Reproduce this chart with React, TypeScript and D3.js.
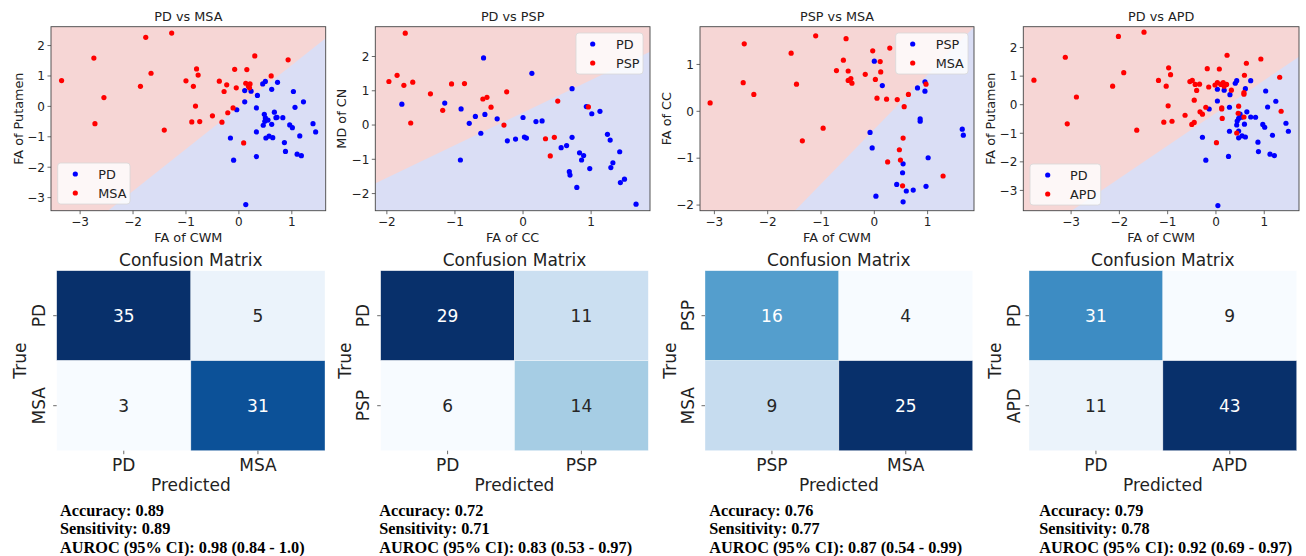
import React from "react";
import * as d3 from "d3";

// ---- data ----

// PD vs MSA  (FA of CWM, FA of Putamen)
const pdMsaPD: [number, number][] = [
  [0.11, 0.52], [0.23, 0.5], [0.11, 0.15], [-0.04, -0.11], [0.33, -0.05], [0.35, 0.36],
  [0.45, 0.74], [0.5, 0.82], [0.73, 0.79], [0.62, 0.56], [0.67, -0.19], [0.48, -0.26],
  [0.5, -0.38], [0.49, -0.49], [0.46, -0.62], [0.72, -0.36], [0.83, -0.37], [0.62, -0.59],
  [0.33, -0.84], [0.51, -1.04], [0.57, -0.98], [0.64, -1.03], [-0.16, -1.04], [-0.1, -1.77],
  [0.33, -1.65], [0.13, -3.23], [0.86, -1.19], [0.88, -1.48], [0.96, -0.61], [1.01, -0.7],
  [1.03, 0.49], [1.06, -0.03], [1.22, 0.15], [1.15, -0.97], [1.1, -1.57], [1.18, -1.62],
  [1.4, -0.57], [1.45, -0.84], [0.55, -0.45], [0.7, -0.37],
];
const pdMsaMSA: [number, number][] = [
  [-3.35, 0.85], [-1.76, 2.27], [-1.27, 2.41], [-2.74, 1.59], [-1.66, 1.09], [-1.86, 0.66],
  [-2.55, 0.29], [-2.72, -0.57], [-1.41, -0.78], [-1.0, 0.84], [-0.8, 1.23], [-0.77, 1.03],
  [-0.86, 0.66], [-0.82, 0.01], [-0.89, -0.51], [-0.74, -0.5], [-0.5, -0.31], [-0.32, -0.52],
  [-0.37, 0.83], [-0.23, 0.71], [-0.28, 0.49], [-0.21, -0.21], [-0.11, -0.05], [-0.08, 1.22],
  [-0.05, 0.61], [0.15, 1.21], [0.3, 1.66], [0.13, 0.76], [0.18, 0.66], [0.21, 0.74],
  [0.2, 0.61], [0.61, 1.0], [0.93, 1.53], [0.09, -1.2],
];

// PD vs PSP  (FA of CC, MD of CN)
const pdPspPD: [number, number][] = [
  [-1.78, 0.61], [-1.15, 0.64], [-0.91, 0.47], [-0.92, -1.02], [-0.79, 0.05], [-0.7, 0.25],
  [-0.62, -0.24], [-0.58, 1.96], [-0.56, 0.31], [-0.38, 0.18], [-0.23, -0.46], [-0.11, -0.41],
  [0.0, 0.22], [0.02, -0.35], [0.05, -0.38], [0.13, 1.51], [0.19, 0.1], [0.28, 0.12],
  [0.56, -0.66], [0.64, -0.6], [0.72, 1.06], [0.72, -0.36], [0.68, -1.36], [0.69, -1.46],
  [0.79, -1.82], [0.83, -0.81], [0.89, -0.89], [0.86, -1.02], [0.93, 0.54], [1.01, 0.33],
  [0.98, -1.27], [1.13, 0.4], [1.24, -0.27], [1.28, -0.44], [1.29, -1.24], [1.32, -1.1],
  [1.42, -0.78], [1.43, -1.68], [1.49, -1.58], [1.66, -2.31],
];
const pdPspPSP: [number, number][] = [
  [-1.73, 2.68], [-1.97, 1.27], [-1.85, 1.45], [-1.75, 1.16], [-1.62, 1.25], [-1.65, 0.06],
  [-1.36, 0.91], [-1.18, 0.43], [-1.05, 1.2], [-0.86, 1.21], [-0.59, 0.76], [-0.53, 0.81],
  [-0.47, 0.52], [-0.24, 0.97], [-0.28, 0.0], [0.33, -0.4], [0.46, -0.36], [0.4, -0.9],
  [0.51, 0.7], [0.96, 0.53],
];

// PSP vs MSA  (FA of CWM, FA of CC)
const pspMsaPSP: [number, number][] = [
  [0.0, 1.07], [0.15, 0.55], [-0.08, -0.45], [-0.04, -0.78], [0.03, -1.81], [0.54, -1.12],
  [0.53, -1.31], [0.42, -1.56], [0.6, -1.7], [0.54, -1.93], [0.73, -1.68], [0.81, 0.5],
  [0.86, -0.16], [0.86, -0.21], [0.95, 0.63], [0.95, 0.43], [1.01, -0.99], [0.97, -1.6],
  [1.65, -0.38], [1.67, -0.51],
];
const pspMsaMSA: [number, number][] = [
  [-3.08, 0.18], [-2.44, 1.44], [-2.46, 0.61], [-2.26, 0.36], [-1.56, 1.24], [-1.46, 0.58],
  [-1.35, -0.63], [-1.1, 1.61], [-0.96, -0.36], [-0.71, 0.87], [-0.58, 1.09], [-0.53, 1.55],
  [-0.49, 0.86], [-0.49, 0.66], [-0.44, 0.7], [-0.42, 0.6], [-0.17, 0.79], [-0.03, 1.29],
  [0.02, 0.68], [0.05, 0.28], [0.11, 1.06], [0.12, 0.84], [0.23, 0.26], [0.29, 1.35],
  [0.43, 0.25], [0.56, 0.1], [0.64, 0.36], [0.54, -0.57], [0.47, -0.82], [0.49, -1.04],
  [0.25, -1.08], [0.53, -1.59], [0.97, 0.58], [1.29, -1.38],
];

// PD vs APD  (FA of CWM, FA of Putamen)
const pdApdPD: [number, number][] = [
  [0.03, 0.54], [0.03, 0.13], [0.17, 0.51], [0.29, 0.35], [-0.14, -0.15], [-0.28, -1.14],
  [-0.21, -1.94], [0.04, -3.53], [0.28, -0.09], [0.28, -0.93], [0.26, -1.81], [0.4, 0.75],
  [0.43, 0.84], [0.47, -0.48], [0.44, -0.57], [0.43, -0.71], [0.47, -0.92], [0.47, -1.16],
  [0.54, -1.09], [0.61, -1.13], [0.59, -0.68], [0.61, 0.56], [0.64, -0.25], [0.72, 0.84],
  [0.72, -0.43], [0.82, -0.44], [0.87, -1.31], [0.88, -1.64], [0.97, -0.69], [1.01, -0.79],
  [1.03, 0.48], [1.07, -0.08], [1.24, 0.12], [1.17, -1.07], [1.12, -1.73], [1.21, -1.78],
  [1.45, -0.65], [1.5, -0.93], [0.5, -0.33], [0.53, -0.44],
];
const pdApdAPD: [number, number][] = [
  [-3.77, 0.86], [-3.12, 1.66], [-3.08, -0.67], [-2.89, 0.27], [-2.14, 0.65], [-2.02, 2.39],
  [-1.91, 1.12], [-1.64, -0.89], [-1.49, 2.54], [-1.19, 0.85], [-1.08, -0.61], [-1.03, 0.65],
  [-0.98, 1.29], [-0.94, 1.05], [-0.99, -0.04], [-0.91, -0.58], [-0.64, -0.37], [-0.54, 0.81],
  [-0.49, 0.85], [-0.5, -0.69], [-0.45, -0.62], [-0.43, 0.71], [-0.4, 0.5], [-0.45, 0.16],
  [-0.34, 0.72], [-0.33, -0.25], [-0.28, -0.33], [-0.21, -0.09], [-0.18, 1.26], [-0.15, 0.62],
  [-0.02, 0.69], [0.01, -1.33], [0.07, 1.25], [0.03, 0.77], [0.1, 0.71], [0.15, 0.77],
  [0.17, 0.65], [0.22, 0.71], [0.12, -0.11], [0.13, -0.48], [0.12, -0.15], [0.23, 1.73],
  [0.32, 0.51], [0.47, -0.05], [0.46, -0.3], [0.43, -0.99], [0.58, -0.43], [0.58, 0.37],
  [0.59, 1.03], [0.63, 1.45], [0.93, 1.6], [1.32, 0.96], [1.35, -0.23], [0.58, 0.42],
];

// linear decision boundaries, two points each (data units)
const boundaries: [number, number][][] = [
  [[-2.47, -3.43], [1.64, 2.24]],
  [[-2.17, -1.7], [1.865, 2.14]],
  [[-1.49, -2.12], [1.87, 1.8]],
  [[-2.99, -3.71], [1.72, 1.68]],
];

const titles = ["PD vs MSA", "PD vs PSP", "PSP vs MSA", "PD vs APD"];
const xLabels = ["FA of CWM", "FA of CC", "FA of CWM", "FA of CWM"];
const yLabels = ["FA of Putamen", "MD of CN", "FA of CC", "FA of Putamen"];
const classNames = [["PD", "MSA"], ["PD", "PSP"], ["PSP", "MSA"], ["PD", "APD"]];
const classPoints = [
  [pdMsaPD, pdMsaMSA],
  [pdPspPD, pdPspPSP],
  [pspMsaPSP, pspMsaMSA],
  [pdApdPD, pdApdAPD],
];
const xDomains = [[-3.55, 1.64], [-2.17, 1.865], [-3.27, 1.87], [-3.99, 1.72]];
const yDomains = [[-3.43, 2.62], [-2.5, 2.87], [-2.12, 1.805], [-3.71, 2.73]];
const xTickVals = [[-3, -2, -1, 0, 1], [-2, -1, 0, 1], [-3, -2, -1, 0, 1], [-3, -2, -1, 0, 1]];
const yTickVals = [[-3, -2, -1, 0, 1, 2], [-2, -1, 0, 1, 2], [-2, -1, 0, 1], [-3, -2, -1, 0, 1, 2]];

const confusion = [
  [[35, 5], [3, 31]],
  [[29, 11], [6, 14]],
  [[16, 4], [9, 25]],
  [[31, 9], [11, 43]],
];
const metrics = [
  ["Accuracy: 0.89", "Sensitivity: 0.89", "AUROC (95% CI): 0.98 (0.84 - 1.0)"],
  ["Accuracy: 0.72", "Sensitivity: 0.71", "AUROC (95% CI): 0.83 (0.53 - 0.97)"],
  ["Accuracy: 0.76", "Sensitivity: 0.77", "AUROC (95% CI): 0.87 (0.54 - 0.99)"],
  ["Accuracy: 0.79", "Sensitivity: 0.78", "AUROC (95% CI): 0.92 (0.69 - 0.97)"],
];

// ---- layout ----
const W = 1306, H = 556;
const plotLeft = [51, 375.3, 700, 1023.3];
const plotWidth = [274.7, 274.7, 274, 275.7];
const plotTop = 26.7, plotBottom = 210.7;
const legendBoxes = [
  { x: 57.7, y: 163, w: 72.3, h: 41, mx: 75.3, tx: 98.3 },
  { x: 576, y: 33, w: 67, h: 41, mx: 592.7, tx: 616 },
  { x: 895.7, y: 33, w: 72.3, h: 41, mx: 912.7, tx: 935.7 },
  { x: 1030, y: 164, w: 70.7, h: 41, mx: 1047.7, tx: 1070 },
];
const cmLeft = [56.7, 380.7, 705, 1029];
const cmWidth = [268.3, 267.6, 267.7, 267.7];
const cmTop = 270.7, cmHeight = 180;
const cmYTickX = [39.3, 363.3, 688, 1014];
const cmTrueX = [20, 345, 670, 995];
const metricsX = [60, 379.3, 709.3, 1039.3];

const sans = "DejaVu Sans, sans-serif";
const dotColors = ["#0000ff", "#ff0000"];

function luminance(c: string) {
  const rgb = d3.rgb(c);
  const lin = [rgb.r, rgb.g, rgb.b].map((v) => {
    const s = v / 255;
    return s <= 0.03928 ? s / 12.92 : Math.pow((s + 0.055) / 1.055, 2.4);
  });
  return 0.2126 * lin[0] + 0.7152 * lin[1] + 0.0722 * lin[2];
}

const fmtTick = (t: number) => String(t).replace("-", "\u2212");

function Scatter({ i }: { i: number }) {
  const x = d3.scaleLinear().domain(xDomains[i]).range([plotLeft[i], plotLeft[i] + plotWidth[i]]);
  const y = d3.scaleLinear().domain(yDomains[i]).range([plotBottom, plotTop]);
  const [[bx0, by0], [bx1, by1]] = boundaries[i];
  const slope = (by1 - by0) / (bx1 - bx0);
  const lineAt = (v: number) => by0 + slope * (v - bx0);
  const [xa, xb] = [xDomains[i][0] - 1, xDomains[i][1] + 1];
  const top = yDomains[i][1] + 20;
  const redRegion = d3.line()([
    [x(xa), y(lineAt(xa))],
    [x(xb), y(lineAt(xb))],
    [x(xb), y(top)],
    [x(xa), y(top)],
  ]) + "Z";
  const cx = plotLeft[i] + plotWidth[i] / 2;
  const lg = legendBoxes[i];
  const clipId = `clip-${i}`;
  return (
    <g>
      <clipPath id={clipId}>
        <rect x={plotLeft[i]} y={plotTop} width={plotWidth[i]} height={plotBottom - plotTop} />
      </clipPath>
      <g clipPath={`url(#${clipId})`}>
        <rect x={plotLeft[i]} y={plotTop} width={plotWidth[i]} height={plotBottom - plotTop} fill="#dadef5" />
        <path d={redRegion} fill="#f6d6d5" />
        {classPoints[i].map((pts, k) =>
          pts.map((p, j) => (
            <circle key={`${k}-${j}`} cx={x(p[0])} cy={y(p[1])} r={2.6} fill={dotColors[k]} />
          ))
        )}
      </g>
      <rect x={plotLeft[i]} y={plotTop} width={plotWidth[i]} height={plotBottom - plotTop} fill="none" stroke="#444" strokeWidth={0.9} />
      {xTickVals[i].map((t) => (
        <g key={`xt${t}`}>
          <line x1={x(t)} x2={x(t)} y1={plotBottom} y2={plotBottom + 3.5} stroke="#444" strokeWidth={0.8} />
          <text x={x(t)} y={plotBottom + 15.5} textAnchor="middle" fontSize={12} fontFamily={sans} fill="#222">
            {fmtTick(t)}
          </text>
        </g>
      ))}
      {yTickVals[i].map((t) => (
        <g key={`yt${t}`}>
          <line x1={plotLeft[i] - 3.5} x2={plotLeft[i]} y1={y(t)} y2={y(t)} stroke="#444" strokeWidth={0.8} />
          <text x={plotLeft[i] - 6} y={y(t) + 4.3} textAnchor="end" fontSize={12} fontFamily={sans} fill="#222">
            {fmtTick(t)}
          </text>
        </g>
      ))}
      <text x={cx} y={21} textAnchor="middle" fontSize={12.8} fontFamily={sans} fill="#222">{titles[i]}</text>
      <text x={cx} y={241.5} textAnchor="middle" fontSize={12.8} fontFamily={sans} fill="#222">{xLabels[i]}</text>
      <text
        transform={`translate(${[18.3, 341.7, 666, 990.7][i] + 4.5},${(plotTop + plotBottom) / 2}) rotate(-90)`}
        textAnchor="middle" fontSize={12.8} fontFamily={sans} fill="#222"
      >
        {yLabels[i]}
      </text>
      <rect x={lg.x} y={lg.y} width={lg.w} height={lg.h} rx={3} fill="#ffffff" fillOpacity={0.8} stroke="#d8d8d8" strokeWidth={0.8} />
      {classNames[i].map((name, k) => (
        <g key={name}>
          <circle cx={lg.mx} cy={lg.y + 11 + k * 19} r={2.6} fill={dotColors[k]} />
          <text x={lg.tx} y={lg.y + 15.5 + k * 19} fontSize={12.8} fontFamily={sans} fill="#222">{name}</text>
        </g>
      ))}
    </g>
  );
}

function Confusion({ i }: { i: number }) {
  const m = confusion[i];
  const flat = m.flat();
  const color = d3.scaleSequential(d3.interpolateBlues).domain([d3.min(flat)!, d3.max(flat)!]);
  const x = d3.scaleBand().domain(["0", "1"]).range([cmLeft[i], cmLeft[i] + cmWidth[i]]);
  const y = d3.scaleBand().domain(["0", "1"]).range([cmTop, cmTop + cmHeight]);
  const cx = cmLeft[i] + cmWidth[i] / 2;
  return (
    <g>
      <text x={cx} y={266} textAnchor="middle" fontSize={17} fontFamily={sans} fill="#222">Confusion Matrix</text>
      {m.map((row, r) =>
        row.map((v, c) => {
          const fill = color(v);
          const txt = luminance(fill) < 0.408 ? "#ffffff" : "#262626";
          return (
            <g key={`${r}-${c}`}>
              <rect x={x(String(c))} y={y(String(r))} width={x.bandwidth()} height={y.bandwidth()} fill={fill} stroke="#ffffff" strokeOpacity={0.6} strokeWidth={0.6} />
              <text x={x(String(c))! + x.bandwidth() / 2} y={y(String(r))! + y.bandwidth() / 2 + 6} textAnchor="middle" fontSize={17} fontFamily={sans} fill={txt}>
                {v}
              </text>
            </g>
          );
        })
      )}
      {classNames[i].map((name, k) => {
        const px = x(String(k))! + x.bandwidth() / 2;
        const py = y(String(k))! + y.bandwidth() / 2;
        return (
          <g key={name}>
            <line x1={px} x2={px} y1={cmTop + cmHeight} y2={cmTop + cmHeight + 3.5} stroke="#444" strokeWidth={0.8} />
            <text x={px} y={471} textAnchor="middle" fontSize={17} fontFamily={sans} fill="#222">{name}</text>
            <line x1={cmLeft[i] - 3.5} x2={cmLeft[i]} y1={py} y2={py} stroke="#444" strokeWidth={0.8} />
            <text transform={`translate(${cmYTickX[i] + 6},${py}) rotate(-90)`} textAnchor="middle" fontSize={17} fontFamily={sans} fill="#222">{name}</text>
          </g>
        );
      })}
      <text x={cx} y={490.5} textAnchor="middle" fontSize={17} fontFamily={sans} fill="#222">Predicted</text>
      <text transform={`translate(${cmTrueX[i] + 6},${cmTop + cmHeight / 2}) rotate(-90)`} textAnchor="middle" fontSize={17} fontFamily={sans} fill="#222">True</text>
      {metrics[i].map((s, k) => (
        <text
          key={k}
          x={metricsX[i]}
          y={516 + k * 18.4}
          fontSize={16.3}
          fontWeight="bold"
          fontFamily="Liberation Serif, Times New Roman, serif"
          fill="#000"
        >
          {s}
        </text>
      ))}
    </g>
  );
}

export default function App() {
  return (
    <svg width={W} height={H} style={{ position: "absolute", left: 0, top: 0, background: "#fff" }}>
      <rect width={W} height={H} fill="#fff" />
      {[0, 1, 2, 3].map((i) => (
        <g key={i}>
          <Scatter i={i} />
          <Confusion i={i} />
        </g>
      ))}
    </svg>
  );
}
